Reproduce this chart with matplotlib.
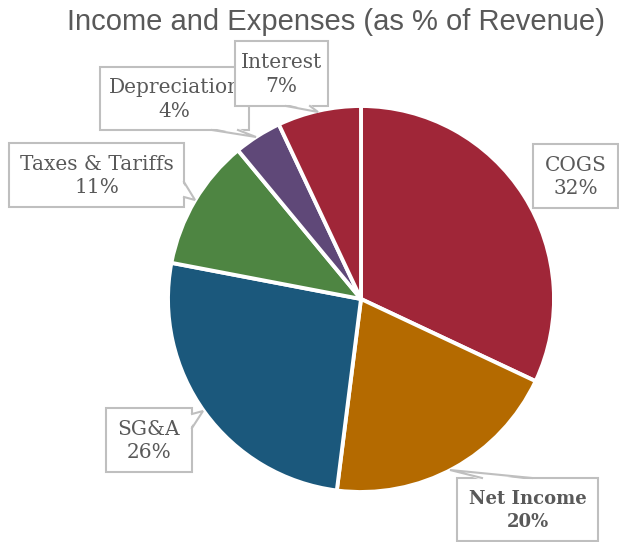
import matplotlib

matplotlib.use("Agg")
import matplotlib.pyplot as plt
from matplotlib.patches import Polygon, Rectangle

labels = ["COGS", "Net Income", "SG&A", "Taxes & Tariffs", "Depreciation", "Interest"]
values = [32, 20, 26, 11, 4, 7]
colors = ["#A02638", "#B46A00", "#1B587C", "#4E8542", "#5F4878", "#A02638"]

# layout, all in pixels from the top-left corner
W, H = 619, 542
CX, CY, R = 361, 299, 193
boxes = [
    (533, 144, 618, 208),
    (457, 478, 598, 541),
    (106, 408, 192, 472),
    (9, 143, 184, 207),
    (100, 67, 249, 130),
    (235, 41, 328, 106),
]
# callout tails: (side of box, base start, base end, tip)
tails = [
    None,
    ("top", 482, 532, (450, 470)),
    ("right", 414, 428, (203, 411)),
    ("right", 182, 197, (195, 200)),
    ("bottom", 212, 238, (256, 137)),
    ("bottom", 286, 310, (318, 112)),
]
EDGE = "#BFBFBF"


def px(x, y):
    return (x - CX) / R, (CY - y) / R


fig = plt.figure(figsize=(W / 100, H / 100), dpi=100)
ax = fig.add_axes([0, 0, 1, 1])

ax.pie(values, colors=colors, startangle=90, counterclock=False, radius=1,
       wedgeprops=dict(edgecolor="white", linewidth=2.8))
ax.set_aspect("auto")
ax.set_xlim(-CX / R, (W - CX) / R)
ax.set_ylim(-(H - CY) / R, CY / R)
ax.axis("off")

for i, (lab, v) in enumerate(zip(labels, values)):
    x0, y0, x1, y1 = boxes[i]
    z = 10 + 3 * i
    ax.add_patch(Rectangle(px(x0, y1), (x1 - x0) / R, (y1 - y0) / R, fc="white",
                           ec=EDGE, lw=1.5, zorder=z, clip_on=False))
    if tails[i] is not None:
        side, a, b, tip = tails[i]
        if side == "top":
            p1, p2, inner = (a, y0), (b, y0), (0, 2)
        elif side == "bottom":
            p1, p2, inner = (a, y1), (b, y1), (0, -2)
        elif side == "right":
            p1, p2, inner = (x1, a), (x1, b), (-2, 0)
        else:
            p1, p2, inner = (x0, a), (x0, b), (2, 0)
        q1 = (p1[0] + inner[0], p1[1] + inner[1])
        q2 = (p2[0] + inner[0], p2[1] + inner[1])
        ax.add_patch(Polygon([px(*q1), px(*tip), px(*q2)], closed=True, fc="white",
                             ec="none", zorder=z + 1, clip_on=False))
        ax.plot(*zip(px(*p1), px(*tip), px(*p2)), color=EDGE, lw=1.5,
                zorder=z + 1, solid_joinstyle="miter", clip_on=False)
    bold = lab == "Net Income"
    ax.text(*px((x0 + x1) / 2, (y0 + y1) / 2 + 1), f"{lab}\n{v}%", ha="center", va="center",
            fontsize=13 if bold else 14.5, family="DejaVu Serif", color="#595959",
            fontweight="bold" if bold else "normal",
            linespacing=1.35 if bold else 1.28, zorder=z + 2)

fig.text(0.543, 0.959, "Income and Expenses (as % of Revenue)", ha="center", va="center",
         fontsize=21, color="#595959", family="Liberation Sans")

fig.savefig("out.png", dpi=100)
